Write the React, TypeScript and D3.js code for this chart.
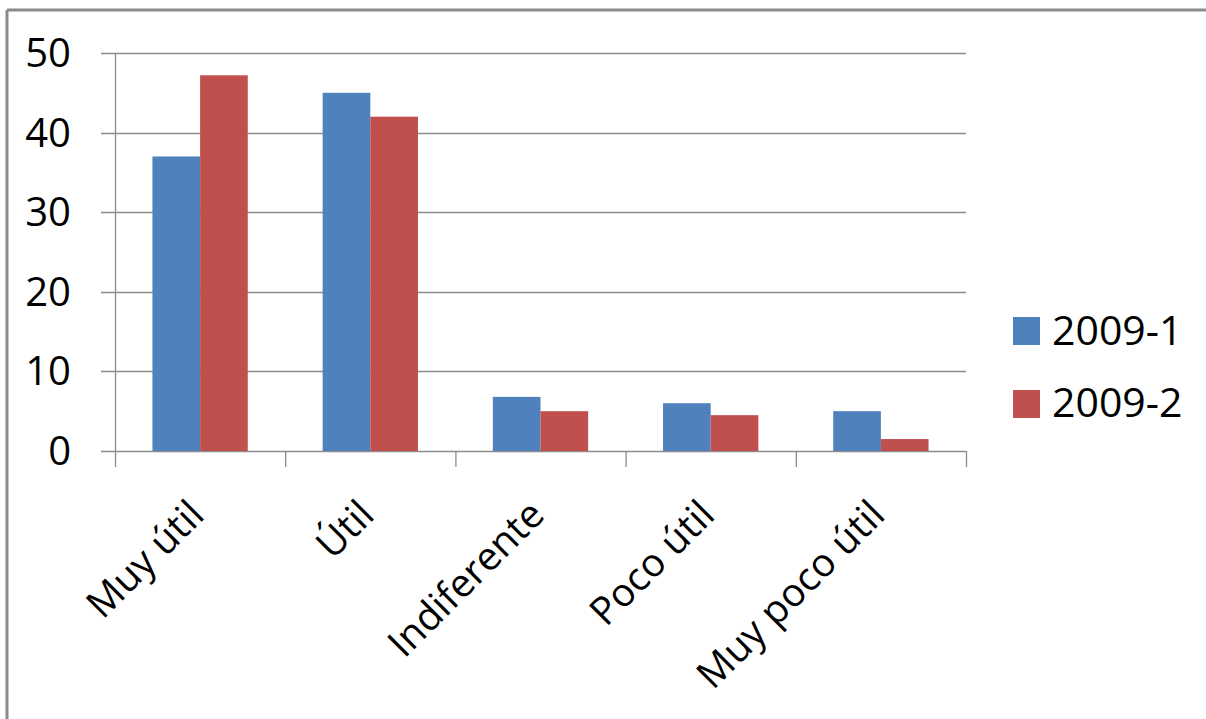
import React from "react";
import * as d3 from "d3";

const categories = ["Muy útil", "Útil", "Indiferente", "Poco útil", "Muy poco útil"];
const seriesNames = ["2009-1", "2009-2"];
const values2009_1 = [37, 45, 6.8, 6, 5];
const values2009_2 = [47.2, 42, 5, 4.5, 1.5];
const yTicks = [0, 10, 20, 30, 40, 50];
const colors = ["#4F81BD", "#C0504D"];

const W = 1206;
const H = 719;
const FONT = "'Open Sans', sans-serif";

export default function App() {
  const x = d3.scaleBand<string>().domain(categories).range([115, 966]).padding(0);
  const groupW = x.bandwidth() * 0.56;
  const xs = d3.scaleBand<string>().domain(seriesNames).range([0, groupW]).padding(0);
  const y = d3.scaleLinear().domain([0, 50]).range([451, 53]);
  const data = [values2009_1, values2009_2];

  return (
    <svg width={W} height={H} style={{ position: "absolute", left: 0, top: 0, background: "#fff" }}>
      <rect x={0} y={0} width={W} height={H} fill="#fff" />
      {/* outer border */}
      <line x1={7} y1={10} x2={W} y2={10} stroke="#8a8a8a" strokeWidth={3} />
      <line x1={7} y1={10} x2={7} y2={H} stroke="#8a8a8a" strokeWidth={3} />
      {/* gridlines */}
      {yTicks.map((t) => (
        <line key={"g" + t} x1={101} x2={966} y1={Math.round(y(t)) + 0.5} y2={Math.round(y(t)) + 0.5} stroke="#8c8c8c" strokeWidth={1.3} />
      ))}
      {/* y axis */}
      <line x1={115.5} x2={115.5} y1={y(50)} y2={467} stroke="#8c8c8c" strokeWidth={1.3} />
      {/* category ticks */}
      {categories.map((c, i) => (
        <line key={"t" + c} x1={(x(c) as number) + x.bandwidth() + 0.5} x2={(x(c) as number) + x.bandwidth() + 0.5} y1={451} y2={467} stroke="#8c8c8c" strokeWidth={1.3} />
      ))}
      {/* bars */}
      {data.map((vals, si) =>
        vals.map((v, ci) => {
          const cx = (x(categories[ci]) as number) + x.bandwidth() / 2 - groupW / 2 + (xs(seriesNames[si]) as number);
          return (
            <rect
              key={si + "-" + ci}
              x={cx}
              y={y(v)}
              width={xs.bandwidth()}
              height={y(0) - y(v)}
              fill={colors[si]}
            />
          );
        })
      )}
      {/* y tick labels */}
      {yTicks.map((t) => (
        <text key={"yl" + t} x={71} y={y(t) + 14} textAnchor="end" fontFamily={FONT} fontSize={40} fill="#000">
          {t}
        </text>
      ))}
      {/* x labels */}
      {categories.map((c) => {
        const cx = (x(c) as number) + x.bandwidth() / 2 + 6;
        return (
          <text key={"xl" + c} transform={`translate(${cx},517) rotate(-45)`} textAnchor="end" fontFamily={FONT} fontSize={39} fill="#000">
            {c}
          </text>
        );
      })}
      {/* legend */}
      {seriesNames.map((s, i) => (
        <g key={"lg" + s}>
          <rect x={1013} y={317 + i * 73} width={27} height={28} fill={colors[i]} />
          <text x={1052} y={345 + i * 72} fontFamily={FONT} fontSize={41} fill="#000">
            {s}
          </text>
        </g>
      ))}
    </svg>
  );
}
